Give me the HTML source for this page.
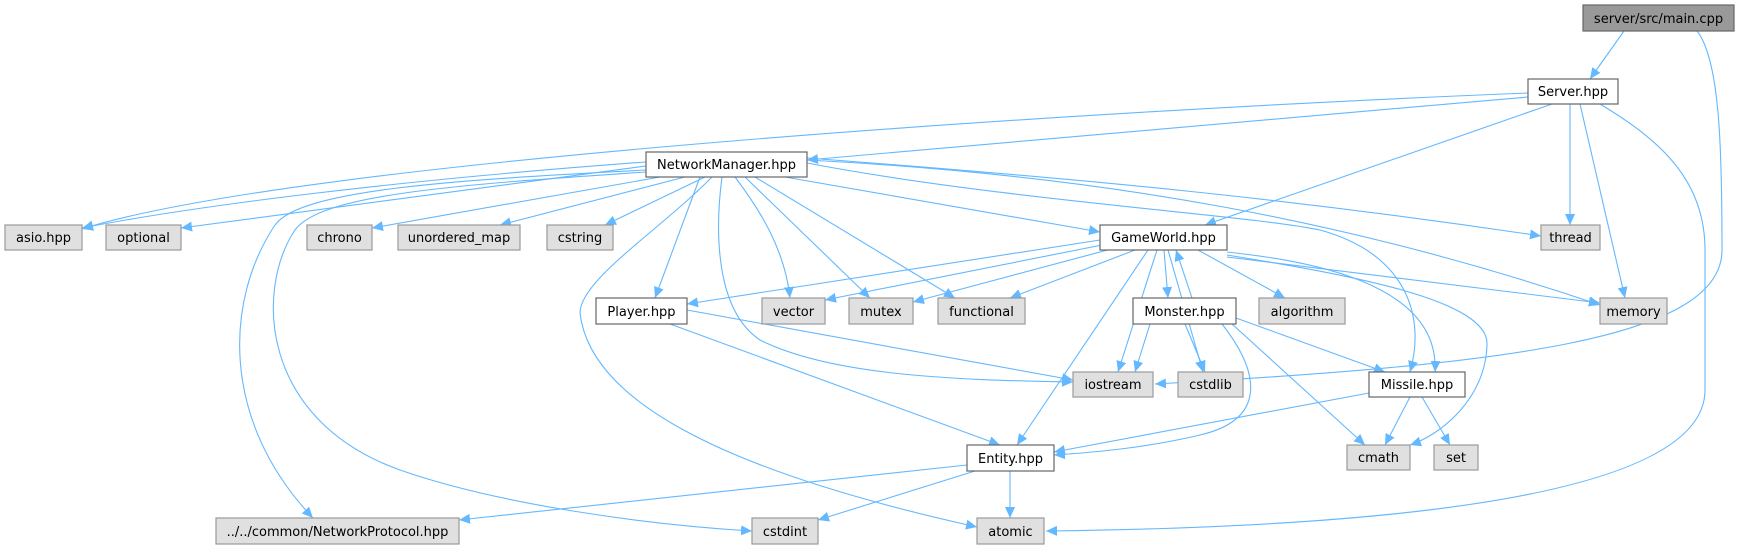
<!DOCTYPE html>
<html><head><meta charset="utf-8"><style>
html,body{margin:0;padding:0;background:#fff;}
svg{display:block;}
text{font-family:"DejaVu Sans","Liberation Sans",sans-serif;font-size:13px;fill:#000;text-anchor:middle;}
.n{fill:#fff;stroke:#666;stroke-width:1.2;}
.g{fill:#e0e0e0;stroke:#999;stroke-width:1.2;}
.m{fill:#999;stroke:#666;stroke-width:1.2;}
.e{fill:none;stroke:#63b8ff;stroke-width:1.1;}
</style></head><body>
<svg width="1761" height="549" viewBox="0 0 1761 549" xmlns="http://www.w3.org/2000/svg">
<defs><marker id="a" markerUnits="userSpaceOnUse" markerWidth="12" markerHeight="10" refX="11" refY="5" orient="auto"><path d="M0,0 L11,5 L0,10 z" fill="#63b8ff"/></marker></defs>
<g class="e" marker-end="url(#a)">
<path d="M1624,31 L1590,79"/>
<path d="M1697,31 C1720,60 1722,150 1722,250 C1722,340 1500,365 1155,384"/>
<path d="M1528,93 C1100,110 300,160 82,229"/>
<path d="M1528,97 L807,160"/>
<path d="M1552,104 L1205,225"/>
<path d="M1570,104 L1570,225"/>
<path d="M1580,104 L1625,298"/>
<path d="M1600,104 C1660,140 1705,180 1705,250 L1705,390 C1705,510 1300,528 1046,531"/>
<path d="M646,162 C400,180 200,205 82,228"/>
<path d="M646,166 L181,228"/>
<path d="M660,177 L372,228"/>
<path d="M685,177 L500,225"/>
<path d="M705,177 L605,225"/>
<path d="M646,170 C450,180 300,190 275,225 C225,300 220,420 313,518"/>
<path d="M646,172 C450,185 320,195 295,230 C255,290 260,420 400,470 C500,505 650,525 752,531"/>
<path d="M700,177 L655,298"/>
<path d="M712,177 C660,230 580,280 580,313 C590,400 720,470 977,527"/>
<path d="M722,177 C715,230 715,310 760,340 C830,375 950,380 1073,382"/>
<path d="M735,177 C760,210 785,250 790,298"/>
<path d="M745,177 L870,298"/>
<path d="M755,177 L955,298"/>
<path d="M785,177 L1100,232"/>
<path d="M807,158 C1100,180 1300,200 1541,236"/>
<path d="M807,160 C1100,175 1350,220 1600,305"/>
<path d="M807,163 C1000,200 1250,215 1320,230 C1410,255 1425,320 1410,372"/>
<path d="M1100,240 L687,304"/>
<path d="M1102,245 L825,300"/>
<path d="M1115,248 L913,302"/>
<path d="M1135,250 L1010,298"/>
<path d="M1148,250 L1017,445"/>
<path d="M1157,250 L1118,372"/>
<path d="M1168,250 L1203,372"/>
<path d="M1164,250 L1168,298"/>
<path d="M1198,250 L1285,298"/>
<path d="M1227,257 L1600,303"/>
<path d="M1227,252 C1300,260 1440,280 1435,372"/>
<path d="M1227,255 C1350,275 1490,300 1487,345 C1485,400 1440,435 1410,445"/>
<path d="M1192,298 L1176,250"/>
<path d="M1150,324 L1135,372"/>
<path d="M1185,324 L1205,372"/>
<path d="M1222,324 C1262,375 1265,420 1200,435 C1150,447 1100,452 1054,455"/>
<path d="M1232,324 L1365,445"/>
<path d="M1236,318 L1385,372"/>
<path d="M1369,393 L1054,452"/>
<path d="M1410,397 L1385,445"/>
<path d="M1422,397 L1450,445"/>
<path d="M687,310 L1073,380"/>
<path d="M670,324 L1000,445"/>
<path d="M967,465 L459,520"/>
<path d="M975,471 L818,520"/>
<path d="M1010,471 L1010,518"/>
</g>
<rect class="m" x="1583" y="5" width="151" height="26"/><text x="1658.5" y="23">server/src/main.cpp</text>
<rect class="n" x="1528" y="79" width="90" height="25"/><text x="1573" y="96">Server.hpp</text>
<rect class="n" x="646" y="152" width="161" height="25"/><text x="726.5" y="169">NetworkManager.hpp</text>
<rect class="g" x="5" y="225" width="77" height="25"/><text x="43.5" y="242">asio.hpp</text>
<rect class="g" x="106" y="225" width="75" height="25"/><text x="143.5" y="242">optional</text>
<rect class="g" x="307" y="225" width="65" height="25"/><text x="339.5" y="242">chrono</text>
<rect class="g" x="398" y="225" width="122" height="25"/><text x="459" y="242">unordered_map</text>
<rect class="g" x="547" y="225" width="66" height="25"/><text x="580" y="242">cstring</text>
<rect class="n" x="1100" y="225" width="127" height="25"/><text x="1163.5" y="242">GameWorld.hpp</text>
<rect class="g" x="1541" y="225" width="59" height="25"/><text x="1570.5" y="242">thread</text>
<rect class="n" x="596" y="298" width="91" height="26"/><text x="641.5" y="316">Player.hpp</text>
<rect class="g" x="762" y="298" width="63" height="26"/><text x="793.5" y="316">vector</text>
<rect class="g" x="849" y="298" width="64" height="26"/><text x="881" y="316">mutex</text>
<rect class="g" x="938" y="298" width="87" height="26"/><text x="981.5" y="316">functional</text>
<rect class="n" x="1133" y="298" width="103" height="26"/><text x="1184.5" y="316">Monster.hpp</text>
<rect class="g" x="1259" y="298" width="86" height="26"/><text x="1302" y="316">algorithm</text>
<rect class="g" x="1600" y="298" width="67" height="26"/><text x="1633.5" y="316">memory</text>
<rect class="g" x="1073" y="372" width="80" height="25"/><text x="1113" y="389">iostream</text>
<rect class="g" x="1178" y="372" width="65" height="25"/><text x="1210.5" y="389">cstdlib</text>
<rect class="n" x="1369" y="372" width="96" height="25"/><text x="1417" y="389">Missile.hpp</text>
<rect class="n" x="967" y="445" width="87" height="26"/><text x="1010.5" y="463">Entity.hpp</text>
<rect class="g" x="1347" y="445" width="63" height="25"/><text x="1378.5" y="462">cmath</text>
<rect class="g" x="1434" y="445" width="44" height="25"/><text x="1456" y="462">set</text>
<rect class="g" x="216" y="518" width="243" height="26"/><text x="337.5" y="536">../../common/NetworkProtocol.hpp</text>
<rect class="g" x="752" y="518" width="66" height="26"/><text x="785" y="536">cstdint</text>
<rect class="g" x="977" y="518" width="67" height="26"/><text x="1010.5" y="536">atomic</text>
</svg>
</body></html>
